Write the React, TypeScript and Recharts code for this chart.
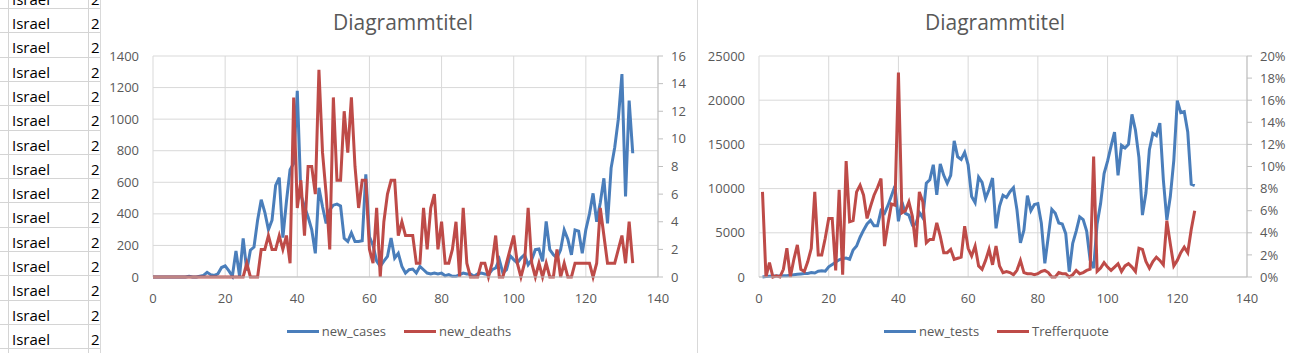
import React from 'react';
import { LineChart, Line, XAxis, YAxis, CartesianGrid, Legend } from 'recharts';

const FONT = '"Open Sans", "Liberation Sans", sans-serif';
const TEXT = '#595959';
const BLUE = '#4a7ebb';
const RED = '#be4b48';
const GRID = '#d9d9d9';
const AXIS = '#bfbfbf';

// axis ticks
const xTicks = [0, 20, 40, 60, 80, 100, 120, 140];
const casesTicks = [0, 200, 400, 600, 800, 1000, 1200, 1400];
const deathsTicks = [0, 2, 4, 6, 8, 10, 12, 14, 16];
const testsTicks = [0, 5000, 10000, 15000, 20000, 25000];
const rateTicks = [0, 2, 4, 6, 8, 10, 12, 14, 16, 18, 20];

// left chart: day 0..133
const casesStartDay = 0;
const newCases = [
  0, 0, 0, 0, 0, 0, 0, 0, 0, 0,
  5, 0, 0, 5, 10, 30, 15, 10, 20, 60,
  70, 40, 5, 165, 5, 245, 40, 170, 190, 360,
  490, 410, 300, 360, 580, 630, 250, 480, 680, 720,
  1180, 520, 445, 380, 300, 150, 565, 445, 340, 425,
  455, 462, 450, 245, 225, 280, 225, 225, 230, 650,
  255, 200, 100, 67, 100, 130, 247, 120, 150, 67,
  25, 46, 50, 25, 67, 46, 25, 19, 25, 19,
  25, 8, 15, 4, 4, 15, 25, 19, 19, 4,
  19, 25, 19, 15, 46, 57, 110, 25, 46, 135,
  110, 89, 120, 141, 78, 110, 173, 177, 99, 352,
  173, 141, 120, 173, 298, 240, 140, 298, 290, 150,
  300, 400, 530, 350, 470, 625, 340, 690, 820, 1000,
  1286, 510, 1117, 784,
];
const newDeaths = [
  0, 0, 0, 0, 0, 0, 0, 0, 0, 0,
  0, 0, 0, 0, 0, 0, 0, 0, 0, 0,
  0, 0, 0, 0, 0, 0, 1, 0, 0, 0,
  2, 2, 3, 2, 2, 3, 2, 3, 1, 13,
  5, 7, 3, 8, 8, 6, 15, 9, 6, 2,
  13, 7, 7, 12, 9, 13, 8, 5, 7, 7,
  2, 1, 5, 0, 4, 6, 7, 7, 3, 4,
  3, 3, 3, 1, 1, 5, 2, 5, 6, 2,
  4, 1, 1, 2, 4, 0, 5, 1, 0, 0,
  0, 1, 1, 0, 1, 3, 0, 0, 1, 2,
  3, 1, 0, 1, 5, 1, 0, 1, 0, 1,
  0, 0, 2, 0, 1, 0, 0, 1, 1, 1,
  1, 1, 0, 1, 5, 3, 1, 1, 1, 2,
  3, 1, 4, 1,
];

// right chart: day 1..125
const testsStartDay = 1;
const newTests = [
  0, 50, 80, 100, 100, 120, 150, 150, 200, 250,
  300, 350, 400, 400, 500, 450, 650, 700, 650, 1150,
  1400, 1700, 1950, 2100, 2150, 2000, 3050, 3500, 4500, 5300,
  6000, 6400, 5800, 5800, 7500, 7200, 8100, 9200, 10300, 6300,
  8500, 7200, 7000, 5900, 6000, 7300, 6700, 10600, 11000, 12700,
  9300, 12800, 11500, 10600, 11500, 15400, 13600, 13300, 14100, 12700,
  9100, 8400, 11300, 10700, 8900, 9900, 11200, 5500, 8000, 9250,
  9000, 9650, 10100, 7600, 3850, 5300, 9200, 7500, 8200, 8300,
  6100, 1550, 4600, 7650, 7200, 6100, 6000, 4900, 600, 3800,
  5200, 6800, 6500, 5200, 1900, 1000, 6000, 8300, 11700, 13100,
  14800, 16400, 11500, 14900, 14600, 15000, 18400, 16600, 13500, 7000,
  9500, 14400, 16250, 16000, 17400, 11000, 6450, 9100, 13200, 19950,
  18600, 18700, 16400, 10500, 10350,
];
// Trefferquote in percent
const trefferquote = [
  7.7, 0, 1.3, 0, 0.1, 0, 0.7, 2.6, 0, 1.6,
  2.9, 0.7, 0.5, 1.4, 2.6, 7.7, 2.0, 2.0, 3.5, 5.3,
  5.3, 0.6, 7.9, 0.2, 10.5, 5.0, 5.1, 7.7, 8.3, 7.4,
  5.3, 6.4, 7.4, 8.1, 8.9, 2.8, 4.8, 6.6, 6.5, 18.5,
  5.8, 6.0, 6.8, 5.5, 2.7, 7.7, 6.8, 3.1, 3.4, 3.4,
  4.9, 3.7, 2.2, 2.2, 2.5, 1.6, 1.7, 1.8, 4.6, 2.6,
  1.9, 2.8, 1.0, 0.7, 1.5, 2.5, 1.1, 2.8, 1.0, 0.4,
  0.5, 0.4, 0.2, 0.6, 1.5, 0.4, 0.3, 0.3, 0.2, 0.3,
  0.5, 0.6, 0.4, 0, 0, 0.4, 0.3, 0.3, 0, 0.2,
  0.6, 0.3, 0.4, 0.6, 0.7, 10.9, 0.5, 0.8, 1.3, 0.9,
  0.6, 0.9, 1.2, 0.5, 1.0, 1.2, 0.9, 0.5, 2.6, 2.5,
  1.4, 0.8, 1.4, 1.8, 1.5, 1.1, 5.1, 3.0, 1.0, 1.5,
  2.2, 2.7, 2.2, 4.3, 6.0,
];

// spreadsheet cells visible at the left edge (only the first glyph of the date column shows)
const sheetCountries = Array(15).fill('Israel');
const sheetDates = Array(15).fill('2');

const chart1Data = newCases.map((v, i) => ({ x: casesStartDay + i, new_cases: v, new_deaths: newDeaths[i] }));
const chart2Data = newTests.map((v, i) => ({ x: testsStartDay + i, new_tests: v, Trefferquote: trefferquote[i] }));

const tickStyle = { fill: TEXT, fontSize: 13, fontFamily: FONT };

const LegendRow = ({ items }: { items: { name: string; color: string }[] }) => (
  <div style={{ display: 'flex', justifyContent: 'center', alignItems: 'center', height: 16, fontFamily: FONT, fontSize: 13, color: TEXT }}>
    {items.map((it, i) => (
      <div key={it.name} style={{ display: 'flex', alignItems: 'center', marginLeft: i ? 18 : 0 }}>
        <div style={{ width: 32, height: 3, background: it.color, marginRight: 3 }} />
        <span>{it.name}</span>
      </div>
    ))}
  </div>
);

const Title = ({ center }: { center: number }) => (
  <div style={{ position: 'absolute', left: center - 110, top: 9, width: 220, textAlign: 'center', fontFamily: FONT, fontSize: 21, lineHeight: '26px', color: TEXT, zIndex: 2 }}>
    Diagrammtitel
  </div>
);

const Sheet = () => {
  const rowH = 24.3;
  return (
    <div style={{ position: 'absolute', left: 0, top: 0, width: 100, height: 353, overflow: 'hidden', fontFamily: FONT, fontSize: 15, color: '#000' }}>
      {sheetCountries.map((c, k) => {
        const top = 8 - rowH + k * rowH;
        return (
          <React.Fragment key={k}>
            <div style={{ position: 'absolute', left: 0, top: top + rowH, width: 100, height: 1, background: '#d4d4d4' }} />
            <div style={{ position: 'absolute', left: 12, top: top + 3, height: rowH, lineHeight: `${rowH}px` }}>{c}</div>
            <div style={{ position: 'absolute', left: 91, top: top + 3, width: 9, height: rowH, lineHeight: `${rowH}px`, whiteSpace: 'nowrap', overflow: 'hidden' }}>{sheetDates[k]}</div>
          </React.Fragment>
        );
      })}
      <div style={{ position: 'absolute', left: 8, top: 0, width: 1, height: 353, background: '#d4d4d4' }} />
      <div style={{ position: 'absolute', left: 88, top: 0, width: 1, height: 353, background: '#d4d4d4' }} />
    </div>
  );
};

export default function App() {
  return (
    <div style={{ position: 'absolute', left: 0, top: 0, width: 1295, height: 353, overflow: 'hidden', background: '#fff' }}>
      <Sheet />

      <div style={{ position: 'absolute', left: 100, top: 0, width: 597, height: 353, background: '#fff', borderLeft: `1px solid ${GRID}`, boxSizing: 'border-box' }}>
        <Title center={302} />
        <LineChart width={596} height={353} data={chart1Data} margin={{ top: 56, right: 8, bottom: 30, left: 0 }}>
          <CartesianGrid stroke={GRID} yAxisId="l" />
          <XAxis dataKey="x" type="number" domain={[0, 140]} ticks={xTicks} height={30} tickSize={0} tickMargin={17}
            axisLine={{ stroke: AXIS }} tick={tickStyle} />
          <YAxis yAxisId="l" domain={[0, 1400]} ticks={casesTicks} width={52} tickSize={0} tickMargin={14}
            axisLine={false} tick={tickStyle} />
          <YAxis yAxisId="r" orientation="right" domain={[0, 16]} ticks={deathsTicks} width={31} tickSize={5} tickMargin={8}
            axisLine={{ stroke: AXIS }} tickLine={{ stroke: AXIS }} tick={{ ...tickStyle, textAnchor: 'start' }} />
          <Legend verticalAlign="bottom" wrapperStyle={{ top: 323, left: 0, width: 596, height: 16 }}
            content={() => <LegendRow items={[{ name: 'new_cases', color: BLUE }, { name: 'new_deaths', color: RED }]} />} />
          <Line yAxisId="l" type="linear" dataKey="new_cases" stroke={BLUE} strokeWidth={3} dot={false} isAnimationActive={false} />
          <Line yAxisId="r" type="linear" dataKey="new_deaths" stroke={RED} strokeWidth={3} dot={false} isAnimationActive={false} />
        </LineChart>
      </div>

      <div style={{ position: 'absolute', left: 697, top: 0, width: 598, height: 353, background: '#fff', borderLeft: `1px solid ${GRID}`, boxSizing: 'border-box' }}>
        <Title center={297} />
        <LineChart width={597} height={353} data={chart2Data} margin={{ top: 56, right: 8, bottom: 30, left: 0 }}>
          <CartesianGrid stroke={GRID} yAxisId="l" />
          <XAxis dataKey="x" type="number" domain={[0, 140]} ticks={xTicks} height={30} tickSize={0} tickMargin={17}
            axisLine={{ stroke: AXIS }} tick={tickStyle} />
          <YAxis yAxisId="l" domain={[0, 25000]} ticks={testsTicks} width={61} tickSize={0} tickMargin={14}
            axisLine={false} tick={tickStyle} />
          <YAxis yAxisId="r" orientation="right" domain={[0, 20]} ticks={rateTicks} width={40} tickSize={5} tickMargin={8}
            axisLine={{ stroke: AXIS }} tickLine={{ stroke: AXIS }} tick={{ ...tickStyle, textAnchor: 'start' }}
            tickFormatter={(v: number) => `${v}%`} />
          <Legend verticalAlign="bottom" wrapperStyle={{ top: 323, left: 0, width: 597, height: 16 }}
            content={() => <LegendRow items={[{ name: 'new_tests', color: BLUE }, { name: 'Trefferquote', color: RED }]} />} />
          <Line yAxisId="l" type="linear" dataKey="new_tests" stroke={BLUE} strokeWidth={3} dot={false} isAnimationActive={false} />
          <Line yAxisId="r" type="linear" dataKey="Trefferquote" stroke={RED} strokeWidth={3} dot={false} isAnimationActive={false} />
        </LineChart>
      </div>
    </div>
  );
}
